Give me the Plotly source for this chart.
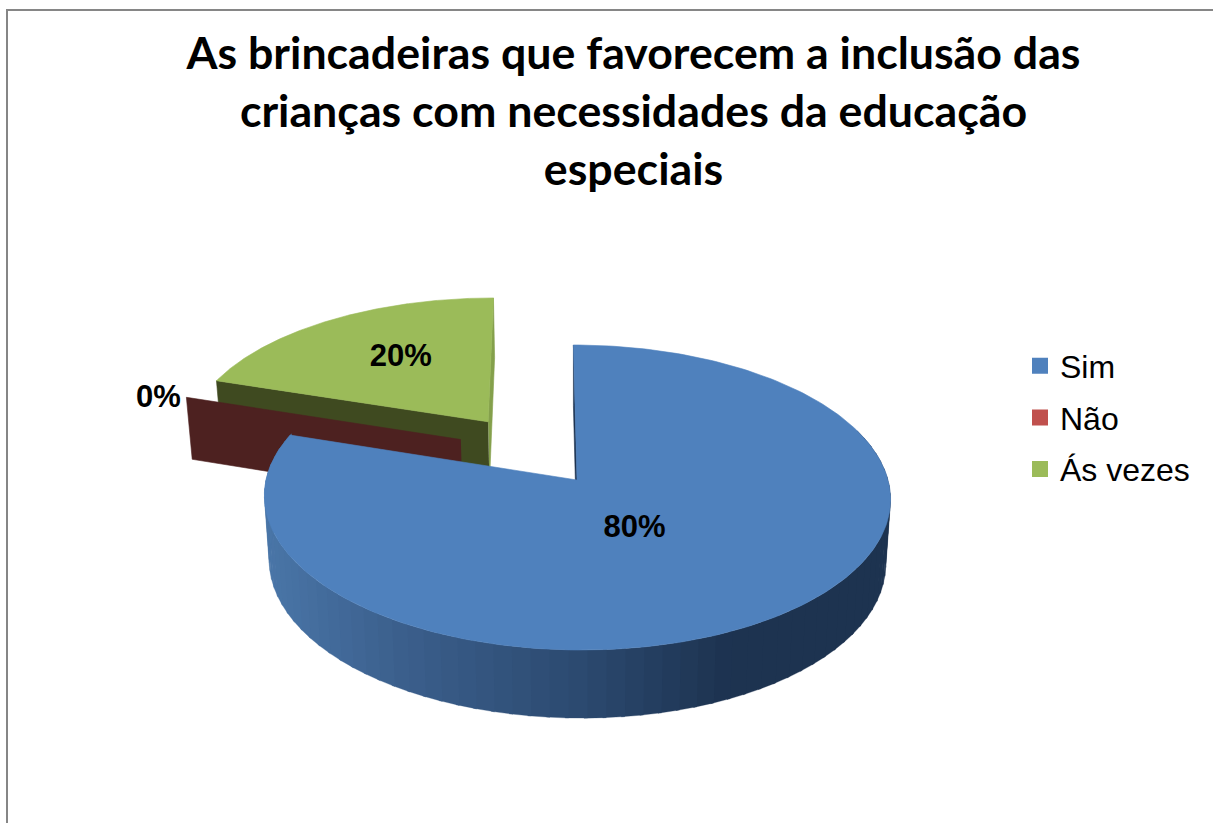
import numpy as np
import plotly.graph_objects as go

# ---- data ----
categories = ["Sim", "Não", "Ás vezes"]
values = [80, 0, 20]
labels = ["80%", "0%", "20%"]
title_lines = ["As brincadeiras que favorecem a inclusão das",
               "crianças com necessidades da educação", "especiais"]

# ---- colours / style ----
top_colors = ["#4F81BD", "#C0504D", "#9BBB59"]
wall_colors = ["#1D3350", "#4D2120", "#3F4A20"]
side_colors = ["#1D3350", "#4D2120", "#84A04B"]
explode = [0.0, 0.472, 0.5]
explode_dir = [0.0, 306.0, 324.0]
label_radius = [0.36, 1.087, 0.585]
label_turn = [7.0, -2.1, 2.9]
grad_pos = [0.0, 0.22, 0.5, 0.74, 1.0]
grad_r = [0x4A, 0x3B, 0x2C, 0x1D, 0x1D]
grad_g = [0x76, 0x5F, 0x4A, 0x33, 0x33]
grad_b = [0xA8, 0x8C, 0x70, 0x50, 0x50]

# ---- projection of the tilted pie ----
CX, AY, RX, RY, D, SKEW, H, SHRINK = 577.0, 480.0, 311.0, 150.5, 8.72, -4.0, 64.0, 0.015


def proj(X, Y, z=0.0):
    X, Y = np.asarray(X, float), np.asarray(Y, float)
    s = D / (D + Y)
    return (CX + RX * X * s * (1 - SHRINK * z) + SKEW * Y * s,
            AY - RY * Y * s + H * z * (0.5 + 0.5 * s))


def rim(theta, off, r=1.0):
    t = np.radians(theta)
    return off[0] + r * np.sin(t), off[1] + r * np.cos(t)


fig = go.Figure()


def poly(x, y, color, lw=0.6):
    fig.add_trace(go.Scatter(x=np.asarray(x).tolist(), y=np.asarray(y).tolist(), mode="lines", fill="toself",
                             fillcolor=color, line=dict(color=color, width=lw),
                             showlegend=False, hoverinfo="skip"))


total = sum(values)
starts = np.cumsum([0] + values[:-1]) / total * 360
ends = np.cumsum(values) / total * 360
offs = [(e * np.sin(np.radians(a)), e * np.cos(np.radians(a))) for e, a in zip(explode, explode_dir)]


def wall(theta, off, color):
    X, Y = rim(theta, off)
    ax, ay = proj(*off)
    axb, ayb = proj(*off, 1)
    tx, ty = proj(X, Y)
    txb, tyb = proj(X, Y, 1)
    poly([ax, tx, txb, axb], [ay, ty, tyb, ayb], color)


def top(i):
    th = np.linspace(starts[i], ends[i], 240)
    X, Y = rim(th, offs[i])
    x, y = proj(X, Y)
    ax, ay = proj(*offs[i])
    poly(np.r_[ax, x, ax], np.r_[ay, y, ay], top_colors[i])


# green slice (behind)
wall(ends[2], offs[2], side_colors[2])
wall(starts[2], offs[2], wall_colors[2])
top(2)
# zero-width red slice
wall(starts[1], offs[1], wall_colors[1])
# blue slice (front)
wall(starts[0], offs[0], side_colors[0])
edges = np.linspace(70, min(ends[0], 290), 71)
for a, b in zip(edges[:-1], edges[1:]):
    th = np.linspace(a, b + 0.6, 5)
    X, Y = rim(th, offs[0])
    xt, yt = proj(X, Y)
    xb, yb = proj(X, Y, 1)
    f = (xt.mean() - 265) / 626
    col = "rgb(%d,%d,%d)" % (np.interp(f, grad_pos, grad_r), np.interp(f, grad_pos, grad_g),
                             np.interp(f, grad_pos, grad_b))
    poly(np.r_[xt, xb[::-1]], np.r_[yt, yb[::-1]], col, lw=0.3)
top(0)

# data labels
for i, lab in enumerate(labels):
    mid = (starts[i] + ends[i]) / 2 + label_turn[i]
    X, Y = rim(mid, offs[i], label_radius[i])
    lx, ly = proj(X, Y)
    fig.add_trace(go.Scatter(x=[float(lx)], y=[float(ly)], mode="text", text=[lab], textposition="middle center",
                             textfont=dict(family="Liberation Sans", size=31, color="black", weight="bold"),
                             showlegend=False, hoverinfo="skip"))

# legend entries
for i, name in enumerate(categories):
    fig.add_trace(go.Scatter(x=[None], y=[None], mode="markers", name=name, legendgroup=name,
                             marker=dict(symbol="square", size=17, color=top_colors[i])))

fig.update_layout(
    width=1213, height=823, margin=dict(l=0, r=0, t=0, b=0),
    paper_bgcolor="white", plot_bgcolor="white",
    xaxis=dict(range=[0, 1213], visible=False, fixedrange=True),
    yaxis=dict(range=[823, 0], visible=False, fixedrange=True),
    title=dict(text="<br>".join(title_lines), x=633.5 / 1213, xanchor="center", y=1 - 68.5 / 823, yanchor="top",
               font=dict(family="Lato", size=44.7, color="black", weight="bold")),
    legend=dict(x=1020 / 1213, y=1 - 338.5 / 823, xanchor="left", yanchor="top", tracegroupgap=7,
                bgcolor="rgba(0,0,0,0)", font=dict(family="Liberation Sans", size=32, color="#000000"),
                itemclick=False, itemdoubleclick=False),
    shapes=[dict(type="rect", xref="x", yref="y", x0=7, y0=10, x1=1400, y1=1000,
                 line=dict(color="#868686", width=2), layer="below")],
)

fig.write_html("out.html", post_script="document.body.style.margin='0';",
               config={"displayModeBar": False})
